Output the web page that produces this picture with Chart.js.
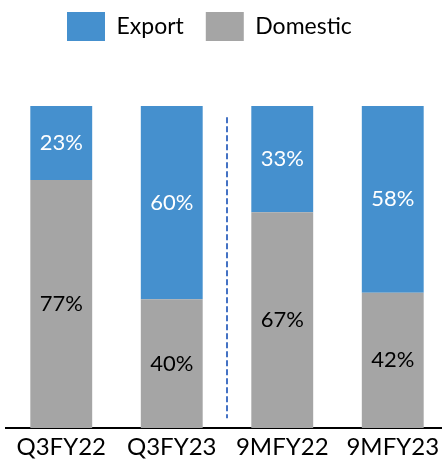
<!DOCTYPE html>
<html>
<head>
<meta charset="utf-8">
<script src="https://cdn.jsdelivr.net/npm/chart.js@4"></script>
<style>
  html, body { margin: 0; padding: 0; background: #fff; overflow: hidden; }
  #wrap { width: 448px; height: 463px; }
</style>
</head>
<body>
<div id="wrap"><canvas id="chart"></canvas></div>
<script>
// data
const categories = ['Q3FY22', 'Q3FY23', '9MFY22', '9MFY23'];
const exportShare = [23, 60, 33, 58];
const domesticShare = [77, 40, 67, 42];

const BLUE = '#4590CE';
const GREY = '#A5A5A5';
const FONT = 'Lato, "Open Sans", sans-serif';

// legend takes a fixed band at the top, plot starts under it
const legendBand = {
  id: 'legendBand',
  beforeInit(chart) {
    const fit = chart.legend.fit;
    chart.legend.fit = function () {
      fit.bind(chart.legend)();
      this.height = 106;
    };
  },
  beforeDraw(chart) {
    // move legend items to where the original has them
    const lg = chart.legend;
    const pad = lg.options.labels.padding;
    const start = (lg.left + pad + lg.right - lg.lineWidths[0]) / 2;
    const dx = 67 - start;
    lg.left += dx;
    lg.right += dx;
    lg.top -= 10;
    lg.bottom -= 10;
  }
};

// percent labels in the middle of each segment
const segLabels = {
  id: 'segLabels',
  afterDatasetsDraw(chart) {
    const ctx = chart.ctx;
    ctx.save();
    ctx.font = '22px ' + FONT;
    ctx.textAlign = 'center';
    ctx.textBaseline = 'middle';
    chart.data.datasets.forEach((ds, i) => {
      const meta = chart.getDatasetMeta(i);
      meta.data.forEach((bar, j) => {
        const mid = (bar.y + bar.base) / 2;
        ctx.fillStyle = ds.labelColor;
        ctx.fillText(ds.data[j] + '%', bar.x, mid);
      });
    });
    ctx.restore();
  }
};

// dashed separator between the quarter and nine-month groups
const divider = {
  id: 'divider',
  afterDatasetsDraw(chart) {
    const x = chart.scales.x;
    const y = chart.scales.y;
    const px = (x.getPixelForValue(1) + x.getPixelForValue(2)) / 2;
    const ctx = chart.ctx;
    ctx.save();
    ctx.strokeStyle = '#4472C4';
    ctx.lineWidth = 2;
    ctx.setLineDash([6, 3]);
    ctx.beginPath();
    ctx.moveTo(px, y.getPixelForValue(96.5));
    ctx.lineTo(px, y.getPixelForValue(3));
    ctx.stroke();
    ctx.restore();
  }
};

new Chart(document.getElementById('chart'), {
  type: 'bar',
  data: {
    labels: categories,
    datasets: [
      {
        label: 'Domestic',
        data: domesticShare,
        backgroundColor: GREY,
        labelColor: '#000'
      },
      {
        label: 'Export',
        data: exportShare,
        backgroundColor: BLUE,
        labelColor: '#fff'
      }
    ]
  },
  options: {
    responsive: true,
    maintainAspectRatio: false,
    animation: false,
    layout: { padding: { left: 6, right: 0, top: 0, bottom: 0 } },
    datasets: {
      bar: { categoryPercentage: 1, barPercentage: 0.56 }
    },
    scales: {
      x: {
        stacked: true,
        grid: { display: false, drawTicks: false },
        border: { display: true, color: '#000', width: 2 },
        ticks: {
          color: '#000',
          font: { family: FONT, size: 24 },
          padding: 5
        },
        afterFit(scale) {
          scale.height = 35;
        }
      },
      y: {
        stacked: true,
        display: false,
        min: 0,
        max: 100
      }
    },
    plugins: {
      legend: {
        position: 'top',
        reverse: true,
        labels: {
          boxWidth: 38,
          boxHeight: 29,
          color: '#000',
          padding: 22,
          font: { family: FONT, size: 23 }
        }
      },
      tooltip: { enabled: false }
    }
  },
  plugins: [legendBand, segLabels, divider]
});
</script>
</body>
</html>
